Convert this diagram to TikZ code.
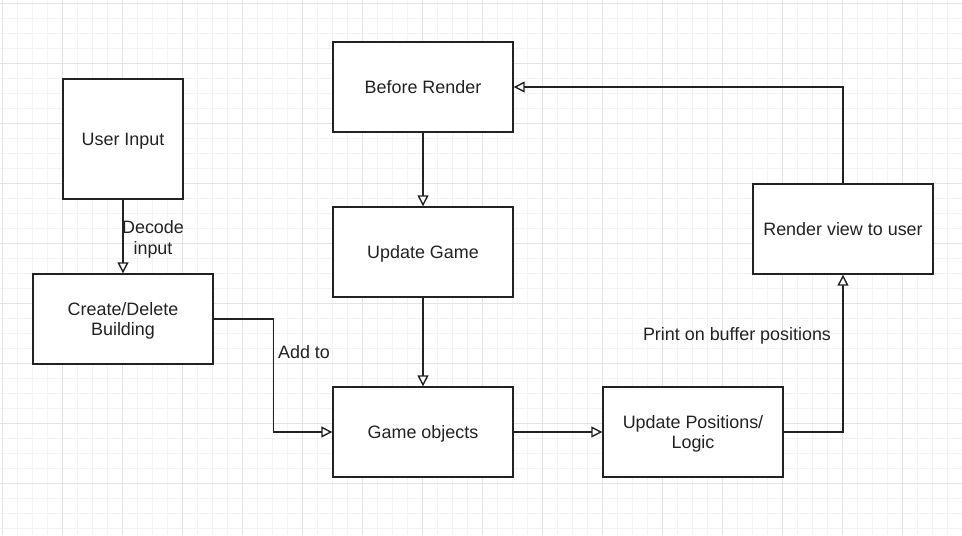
\documentclass[tikz,border=0pt]{standalone}
\usepackage{fontspec}
\setmainfont{Liberation Sans}
\usetikzlibrary{arrows.meta}

\definecolor{minorgrid}{HTML}{F3F3F3}
\definecolor{majorgrid}{HTML}{E3E3E3}
\definecolor{ink}{HTML}{222222}

\tikzset{
  box/.style={draw=ink, line width=0.8pt, fill=white, text=ink, align=center,
    minimum width=3.6cm, minimum height=1.8cm, inner sep=0pt, text depth=0pt},
  lbl/.style={text=ink, align=center, inner sep=0pt},
  flow/.style={draw=ink, line width=0.8pt,
    -{Triangle[length=0.22cm, width=0.22cm, fill=white, line width=0.8pt]}},
}

\begin{document}
\begin{tikzpicture}[x=0.02cm, y=-0.02cm, font=\fontsize{10.2}{11.8}\selectfont]

% background and grid
\useasboundingbox (0,0) rectangle (962,535);
\fill[white] (0,0) rectangle (962,535);
\foreach \gx in {2,17,...,962} \draw[minorgrid, line width=0.5pt] (\gx,0) -- (\gx,535);
\foreach \gy in {3,18,...,535} \draw[minorgrid, line width=0.5pt] (0,\gy) -- (962,\gy);
\foreach \gx in {2,62,...,962} \draw[majorgrid, line width=0.5pt] (\gx,0) -- (\gx,535);
\foreach \gy in {3,63,...,535} \draw[majorgrid, line width=0.5pt] (0,\gy) -- (962,\gy);

% boxes
\node[box, minimum width=2.4cm, minimum height=2.4cm] (input) at (123,139) {User Input};
\node[box] (create) at (123,319) {Create/Delete\\Building};
\node[box] (before) at (423,87) {Before Render};
\node[box] (update) at (423,252) {Update Game};
\node[box] (objects) at (423,432) {Game objects};
\node[box] (logic) at (693,432) {Update Positions/\\Logic};
\node[box] (render) at (843,229) {Render view to user};

% connectors
\draw[flow] (input) -- (create);
\draw[flow] (create.east) -- ++(60,0) |- (objects.west);
\draw[flow] (before) -- (update);
\draw[flow] (update) -- (objects);
\draw[flow] (objects) -- (logic);
\draw[flow] (logic.east) -| (render.south);
\draw[flow] (render.north) |- (before.east);

% labels
\node[lbl] (decode) at (153,239) {Decode\\input};
\node[lbl] (addto) at (304,352) {Add to};
\node[lbl] (print) at (737,336) {Print on buffer positions};

\end{tikzpicture}
\end{document}
